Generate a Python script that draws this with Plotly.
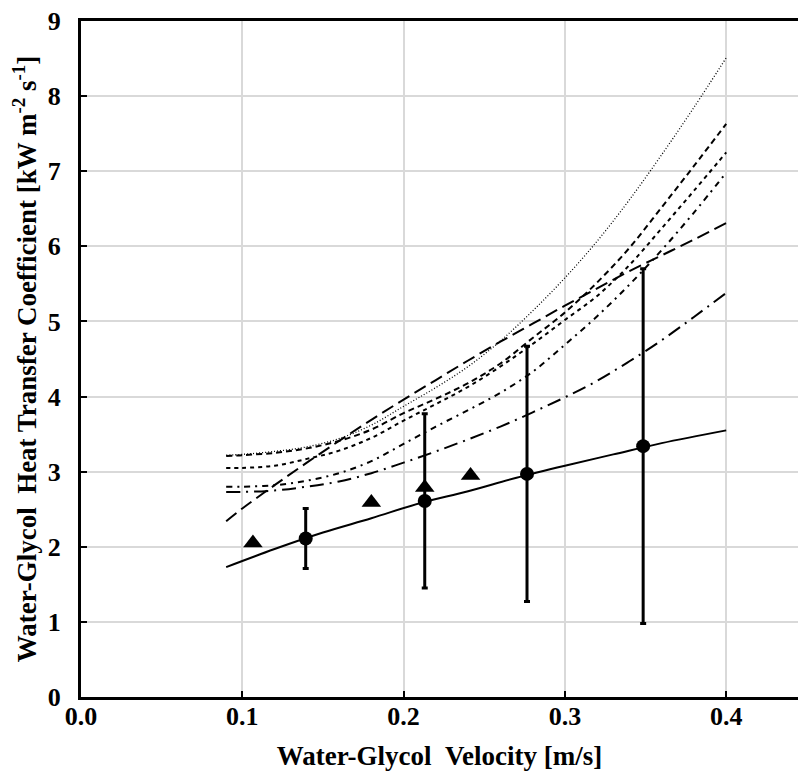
import plotly.graph_objects as go

# ---------------- data ----------------
x_curve = [0.09, 0.10, 0.12, 0.14, 0.16, 0.18, 0.20, 0.22, 0.24, 0.26,
           0.28, 0.30, 0.32, 0.34, 0.36, 0.38, 0.40]

curve_dotted = [3.22, 3.23, 3.27, 3.33, 3.44, 3.62, 3.87, 4.12, 4.40, 4.74,
                5.14, 5.58, 6.07, 6.62, 7.22, 7.85, 8.51]
curve_dash_a = [3.21, 3.22, 3.25, 3.31, 3.41, 3.56, 3.78, 3.97, 4.18, 4.44,
                4.78, 5.12, 5.52, 5.98, 6.52, 7.07, 7.63]
curve_dash_b = [3.05, 3.05, 3.08, 3.17, 3.28, 3.45, 3.68, 3.90, 4.13, 4.40,
                4.70, 5.02, 5.34, 5.75, 6.24, 6.74, 7.25]
curve_dashdot = [2.80, 2.80, 2.82, 2.88, 2.98, 3.14, 3.37, 3.60, 3.82, 4.05,
                 4.33, 4.69, 5.07, 5.49, 5.95, 6.45, 6.98]
curve_longdash = [2.34, 2.51, 2.82, 3.12, 3.41, 3.69, 3.96, 4.22, 4.48, 4.73,
                  4.97, 5.21, 5.44, 5.67, 5.88, 6.09, 6.31]
curve_longdashdot = [2.73, 2.73, 2.75, 2.80, 2.87, 2.98, 3.12, 3.27, 3.43, 3.60,
                     3.79, 3.99, 4.21, 4.47, 4.75, 5.06, 5.38]

x_fit = [0.09, 0.12, 0.15, 0.18, 0.21, 0.24, 0.27, 0.30, 0.33, 0.36, 0.40]
y_fit = [1.73, 1.97, 2.19, 2.38, 2.58, 2.74, 2.92, 3.08, 3.23, 3.38, 3.55]

x_circle = [0.1393, 0.2131, 0.2765, 0.3485]
y_circle = [2.11, 2.61, 2.97, 3.34]
err_circle = [0.40, 1.16, 1.70, 2.36]

x_triangle = [0.1066, 0.180, 0.2131, 0.2415]
y_triangle = [2.05, 2.59, 2.79, 2.95]

x_ticks = [0.0, 0.1, 0.2, 0.3, 0.4]
x_ticklabels = ["0.0", "0.1", "0.2", "0.3", "0.4"]
y_ticks = [0, 1, 2, 3, 4, 5, 6, 7, 8, 9]

# ---------------- figure ----------------
FONT = "Liberation Serif, Times New Roman, serif"
fig = go.Figure()

curves = [
    (curve_dotted, "1px,2px", 1.3),
    (curve_dash_a, "6px,4px", 2),
    (curve_dash_b, "4px,4px", 2),
    (curve_dashdot, "6px,5px,2px,5px", 2),
    (curve_longdash, "13px,6px", 2),
    (curve_longdashdot, "14px,6px,2px,6px", 2),
]
for ys, dash, w in curves:
    fig.add_trace(go.Scatter(x=x_curve, y=ys, mode="lines",
                             line=dict(color="black", width=w, dash=dash, shape="spline"),
                             showlegend=False, hoverinfo="skip"))

fig.add_trace(go.Scatter(x=x_fit, y=y_fit, mode="lines",
                         line=dict(color="black", width=2, shape="spline"),
                         showlegend=False))

fig.add_trace(go.Scatter(x=x_circle, y=y_circle, mode="markers",
                         marker=dict(symbol="circle", size=14, color="black"),
                         error_y=dict(type="data", array=err_circle, visible=True,
                                      color="black", thickness=3, width=3),
                         showlegend=False))

fig.add_trace(go.Scatter(x=x_triangle, y=y_triangle, mode="markers",
                         marker=dict(symbol="triangle-up", size=17, color="black"),
                         showlegend=False))

fig.update_layout(
    width=798, height=778,
    margin=dict(l=81, r=0, t=21, b=81),
    paper_bgcolor="white", plot_bgcolor="white",
    font=dict(family=FONT, color="black"),
)

fig.update_xaxes(
    range=[0, 0.4445], tickvals=x_ticks, ticktext=x_ticklabels,
    showgrid=True, gridcolor="#d9d9d9", gridwidth=2,
    zeroline=False, showline=True, linecolor="black", linewidth=3, mirror=True,
    ticks="inside", ticklen=6, tickwidth=2, tickcolor="black",
    ticklabelstandoff=-6,
    tickfont=dict(family=FONT, size=26, color="black", weight="bold"),
    title=dict(text="<b>Water-Glycol\u00a0\u00a0Velocity [m/s]</b>",
               font=dict(family=FONT, size=27, color="black"), standoff=16),
)
fig.update_yaxes(
    range=[0, 9], tickvals=y_ticks,
    showgrid=True, gridcolor="#d9d9d9", gridwidth=2,
    zeroline=False, showline=True, linecolor="black", linewidth=3,
    ticks="inside", ticklen=6, tickwidth=2, tickcolor="black",
    ticklabelstandoff=12,
    tickfont=dict(family=FONT, size=26, color="black", weight="bold"),
    title=dict(text="<b>Water-Glycol\u00a0\u00a0Heat Transfer Coefficient [kW m<sup>-2</sup> s<sup>-1</sup>]</b>",
               font=dict(family=FONT, size=27, color="black"), standoff=4),
)

fig.write_html("out.html")
